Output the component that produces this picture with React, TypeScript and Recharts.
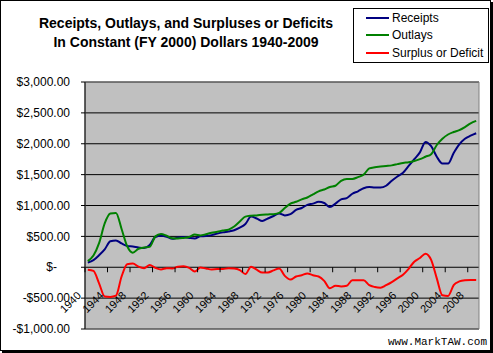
import React from 'react';
import { LineChart, Line, XAxis, YAxis, CartesianGrid, ReferenceArea } from 'recharts';

const years = [
  1940, 1941, 1942, 1943, 1944, 1945, 1946, 1947, 1948, 1949,
  1950, 1951, 1952, 1953, 1954, 1955, 1956, 1957, 1958, 1959,
  1960, 1961, 1962, 1963, 1964, 1965, 1966, 1967, 1968, 1969,
  1970, 1971, 1972, 1973, 1974, 1975, 1976, 1977, 1978, 1979,
  1980, 1981, 1982, 1983, 1984, 1985, 1986, 1987, 1988, 1989,
  1990, 1991, 1992, 1993, 1994, 1995, 1996, 1997, 1998, 1999,
  2000, 2001, 2002, 2003, 2004, 2005, 2006, 2007, 2008, 2009,
];

// billions, constant FY 2000 dollars
const receipts = [
  75, 115, 195, 290, 420, 435, 385, 345, 335, 320,
  310, 360, 490, 510, 495, 460, 480, 490, 475, 465,
  500, 505, 520, 545, 565, 580, 600, 640, 700, 820,
  790, 750, 790, 830, 870, 840, 860, 930, 960, 1010,
  1030, 1060, 1040, 975, 1030, 1100, 1120, 1190, 1230, 1280,
  1300, 1290, 1290, 1320, 1400, 1470, 1530, 1640, 1750, 1860,
  2030, 1960, 1790, 1680, 1680, 1850, 1990, 2080, 2130, 2170,
];

const outlays = [
  100, 190, 390, 710, 870, 880, 620, 340, 235, 300,
  320, 330, 500, 540, 510, 470, 465, 475, 490, 530,
  515, 535, 560, 575, 595, 610, 660, 740, 820, 835,
  840, 850, 855, 860, 880, 960, 1030, 1060, 1100, 1130,
  1180, 1230, 1260, 1300, 1320, 1400, 1430, 1430, 1460, 1500,
  1600, 1620, 1630, 1640, 1650, 1670, 1690, 1700, 1720, 1750,
  1790, 1830, 1980, 2080, 2150, 2190, 2220, 2270, 2330, 2370,
];

const surplus = [
  -40, -60, -260, -475, -480, -460, -150, 50, 60, 10,
  -15, 35, -10, -35, -15, -20, 10, 15, -10, -70,
  -5, -20, -35, -30, -30, -15, -20, -45, -110, 10,
  -40, -85, -85, -50, -20, -140, -200, -150, -130, -100,
  -130, -150, -220, -340, -300, -310, -300, -210, -210, -210,
  -290, -320, -330, -290, -240, -180, -120, -25, 90, 150,
  220, 120, -180, -455, -465, -290, -230, -210, -205, -205,
];

const labelYears = [1940, 1944, 1948, 1952, 1956, 1960, 1964, 1968, 1972, 1976, 1980, 1984, 1988, 1992, 1996, 2000, 2004, 2008];
const valueTicks = [-1000, -500, 0, 500, 1000, 1500, 2000, 2500, 3000];

const seriesKeys = ['receipts', 'outlays', 'surplus'];
const seriesNames = ['Receipts', 'Outlays', 'Surplus or Deficit'];
const seriesColors = ['#000080', '#008000', '#FF0000'];

// the category axis crosses at $0, so its ticks ride on a blank series at 0
const data = years.map((year, i) => ({
  year,
  receipts: receipts[i],
  outlays: outlays[i],
  surplus: surplus[i],
  axisMark: labelYears.includes(year) ? 0 : null,
}));

const W = 493;
const H = 353;
const MARGIN = { top: 82, right: 14, bottom: 24, left: 0 };
const Y_AXIS_W = 85;
const PLOT_W = W - MARGIN.left - MARGIN.right - Y_AXIS_W;
const HALF_BAND = PLOT_W / years.length / 2;
const FONT = '"Liberation Sans", Arial, sans-serif';

const money = (v: number) => {
  if (v === 0) return '$-';
  const s = Math.abs(v).toLocaleString('en-US', { minimumFractionDigits: 2, maximumFractionDigits: 2 });
  return (v < 0 ? '-$' : '$') + s;
};

const ValueTick = ({ x, y, payload }: any) => (
  <text
    x={payload.value === 0 ? x - 13 : x}
    y={y}
    dy="0.35em"
    textAnchor="end"
    fontSize={12}
    fontFamily={FONT}
    fill="#000"
  >
    {money(payload.value)}
  </text>
);

const YearMark = ({ cx, cy, payload }: any) => {
  if (cx == null || cy == null || payload.axisMark == null) return <g />;
  const ax = cx - 6;
  const ay = cy + 29;
  return (
    <g key={payload.year}>
      <line x1={cx - HALF_BAND} x2={cx - HALF_BAND} y1={cy} y2={cy + 5} stroke="#000" strokeWidth={1} />
      <text
        x={ax}
        y={ay}
        transform={`rotate(-45 ${ax} ${ay})`}
        textAnchor="end"
        fontSize={11}
        fontFamily={FONT}
        fill="#000"
      >
        {payload.year}
      </text>
    </g>
  );
};

export default function App() {
  return (
    <div style={{ position: 'absolute', left: 0, top: 0, width: W, height: H, background: '#fff', fontFamily: FONT }}>
      <div
        style={{
          position: 'absolute', left: 0, top: 0, width: 489, height: 349,
          border: '1px solid #000', boxShadow: '2px 2px 0 #000',
        }}
      />
      <div
        style={{
          position: 'absolute', left: 0, top: 14, width: 372, textAlign: 'center',
          fontSize: 14, fontWeight: 'bold', lineHeight: '18.5px', color: '#000',
        }}
      >
        Receipts, Outlays, and Surpluses or Deficits
        <br />
        In Constant (FY 2000) Dollars 1940-2009
      </div>
      <div
        style={{
          position: 'absolute', left: 353, top: 8, width: 136, height: 55,
          boxSizing: 'border-box', border: '1px solid #000', background: '#fff',
        }}
      >
        {seriesNames.map((name, i) => (
          <div key={name} style={{ position: 'absolute', left: 12, top: i * 17.5, height: 17, display: 'flex', alignItems: 'center' }}>
            <div style={{ width: 23, height: 2, background: seriesColors[i], marginRight: 3 }} />
            <span style={{ fontSize: 12, color: '#000', whiteSpace: 'nowrap' }}>{name}</span>
          </div>
        ))}
      </div>
      <LineChart width={W} height={H} data={data} margin={MARGIN}>
        <CartesianGrid vertical={false} stroke="#000" fill="#C0C0C0" fillOpacity={1} />
        <ReferenceArea x1={1939.5} x2={2009.5} y1={-1000} y2={3000} fill="none" stroke="#808080" />
        <XAxis dataKey="year" type="number" domain={[1939.5, 2009.5]} hide />
        <YAxis
          width={Y_AXIS_W}
          type="number"
          domain={[-1000, 3000]}
          ticks={valueTicks}
          interval={0}
          tickSize={4}
          tickMargin={11}
          axisLine={{ stroke: '#000' }}
          tickLine={{ stroke: '#000' }}
          tick={<ValueTick />}
        />
        <Line
          dataKey="axisMark"
          stroke="none"
          connectNulls={false}
          dot={<YearMark />}
          activeDot={false}
          legendType="none"
          isAnimationActive={false}
        />
        {seriesKeys.map((key, i) => (
          <Line
            key={key}
            type="monotone"
            dataKey={key}
            name={seriesNames[i]}
            stroke={seriesColors[i]}
            strokeWidth={2}
            dot={false}
            isAnimationActive={false}
          />
        ))}
      </LineChart>
      <div
        style={{
          position: 'absolute', left: 388, top: 337, fontSize: 11, lineHeight: '11px',
          fontFamily: '"Liberation Mono", "Courier New", monospace', color: '#000',
        }}
      >
        www.MarkTAW.com
      </div>
    </div>
  );
}
